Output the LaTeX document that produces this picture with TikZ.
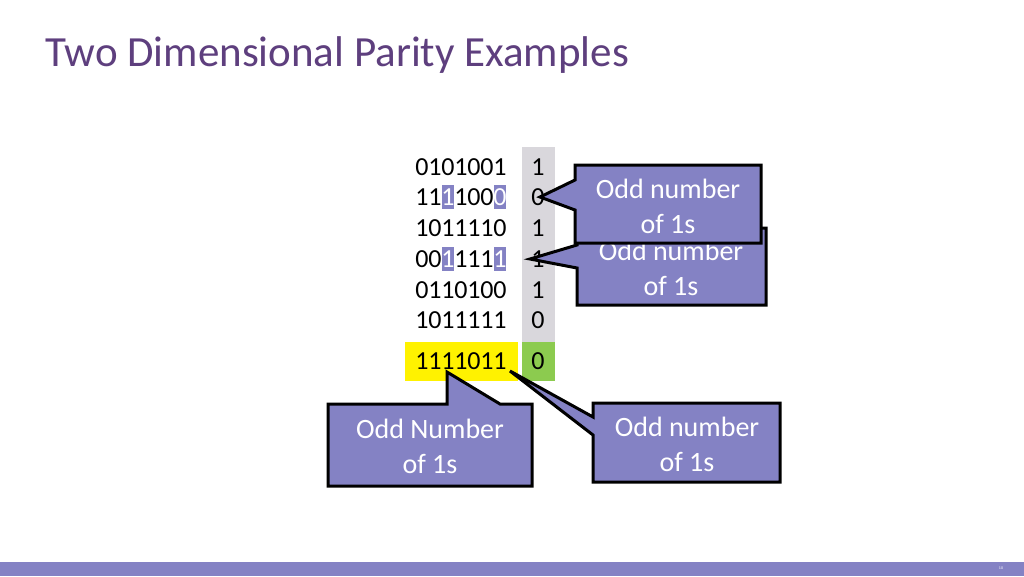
\documentclass[tikz,border=0pt]{standalone}
\usepackage{fontspec}
\setmainfont{Carlito}
\definecolor{callfill}{HTML}{8482C4}
\definecolor{titlec}{HTML}{5E3F7E}
\definecolor{greyc}{HTML}{D9D7DC}
\definecolor{greenc}{HTML}{8CCB4F}
\begin{document}
\begin{tikzpicture}[x=1pt,y=-1pt,
  dig/.style={font=\fontsize{26}{26}\selectfont,inner sep=0pt},
  calltxt/.style={font=\fontsize{28}{35}\selectfont,text=white,align=center},
  callout/.style={fill=callfill,draw=black,line width=3pt,line join=miter}]
\useasboundingbox (0,0) rectangle (1024,576);
\fill[white] (0,0) rectangle (1024,576);
\node[anchor=west,text=titlec,font=\fontsize{43}{43}\selectfont] (title) at (42,55) {Two Dimensional Parity Examples};
\fill[callfill] (0,562) rectangle (1024,576);
\node[font=\fontsize{4}{4}\selectfont,text=white] (pg) at (1001,568) {10};
% strips
\fill[greyc] (522,147) rectangle (555,345);
\fill[yellow] (405,342) rectangle (518,381);
\fill[greenc] (522,342) rectangle (555,381);
% highlight backgrounds
\foreach \hx/\hy in {448/197,500/197,448/259,500/259}{
  \fill[callfill] (\hx-6,\hy-12) rectangle (\hx+6,\hy+12);
}
% parity column
\foreach \r/\y/\p in {1/167/1,2/197/0,3/228/1,4/259/1,5/290/1,6/320/0,7/361/0}{
  \node[dig] (p\r) at (538,\y) {\p};
}
% data rows, digit by digit (c = text colour)
\foreach \r/\y/\bits in {1/167/{0/black,1/black,0/black,1/black,0/black,0/black,1/black},
  2/197/{1/black,1/black,1/white,1/black,0/black,0/black,0/white},
  3/228/{1/black,0/black,1/black,1/black,1/black,1/black,0/black},
  4/259/{0/black,0/black,1/white,1/black,1/black,1/black,1/white},
  5/290/{0/black,1/black,1/black,0/black,1/black,0/black,0/black},
  6/320/{1/black,0/black,1/black,1/black,1/black,1/black,1/black},
  7/361/{1/black,1/black,1/black,1/black,0/black,1/black,1/black}}{
  \foreach \b/\c [count=\i] in \bits {
    \pgfmathsetmacro{\xx}{409+13*\i}
    \node[dig,text=\c] (d\r-\i) at (\xx,\y) {\b};
  }
}
% callout row 4 (back)
\draw[callout] (577,228) -- (766,228) -- (766,305) -- (577,305) -- (577,268) -- (530,259) -- (577,245) -- cycle;
\node[calltxt] (c4) at (671,268) {Odd number\\of 1s};
% callout row 2 (front)
\draw[callout] (575,165) -- (761,165) -- (761,243) -- (575,243) -- (575,210) -- (540,197) -- (575,180) -- cycle;
\node[calltxt] (c2) at (668,206) {Odd number\\of 1s};
% bottom-left
\draw[callout] (328,404) -- (447,404) -- (447,372) -- (500,404) -- (532,404) -- (532,486) -- (328,486) -- cycle;
\node[calltxt] (cl) at (430,446) {Odd Number\\of 1s};
% bottom-right
\draw[callout] (593,403) -- (780,403) -- (780,482) -- (593,482) -- (593,435) -- (510,371) -- (593,417) -- cycle;
\node[calltxt] (cr) at (687,444) {Odd number\\of 1s};
\end{tikzpicture}
\end{document}
